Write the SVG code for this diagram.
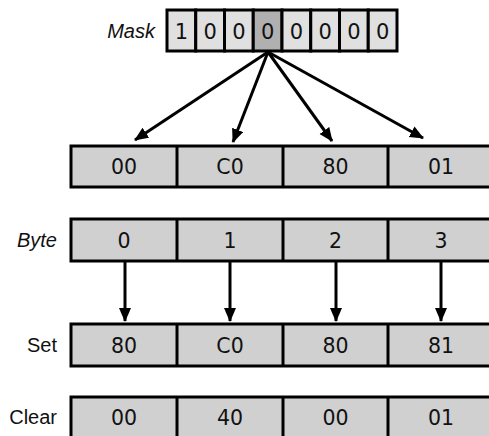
<svg xmlns="http://www.w3.org/2000/svg" width="489" height="436" viewBox="0 0 489 436">
  <style>
    .cell { fill: #d0d0d0; stroke: #000; stroke-width: 3; }
    .mcell { fill: #e0e0e0; stroke: #000; stroke-width: 3; }
    .mcell.sel { fill: #b0b0b0; }
    .div { stroke: #000; stroke-width: 3; }
    .val { font-family: "DejaVu Sans", "Verdana", sans-serif; font-size: 20.5px; text-anchor: middle; fill: #111; }
    .bit { font-family: "DejaVu Sans", "Verdana", sans-serif; font-size: 21px; text-anchor: middle; fill: #111; }
    .lbl { font-family: "Liberation Sans", Arial, sans-serif; font-size: 20px; text-anchor: end; fill: #111; }
    .it { font-style: italic; }
    .arrow { stroke: #000; stroke-width: 3; fill: none; marker-end: url(#head); }
  </style>
  <defs>
    <marker id="head" markerUnits="userSpaceOnUse" markerWidth="16" markerHeight="14" refX="13" refY="6" orient="auto">
      <path d="M0,0 L14,6 L0,12 Z" fill="#000"/>
    </marker>
  </defs>

  <!-- mask byte: eight bit cells -->
  <g id="mask">
    <text class="lbl it" x="155" y="38">Mask</text>
    <rect class="mcell" x="167" y="10" width="28.75" height="41"/>
    <rect class="mcell" x="195.75" y="10" width="28.75" height="41"/>
    <rect class="mcell" x="224.5" y="10" width="28.75" height="41"/>
    <rect class="mcell sel" x="253.25" y="10" width="28.75" height="41"/>
    <rect class="mcell" x="282" y="10" width="28.75" height="41"/>
    <rect class="mcell" x="310.75" y="10" width="28.75" height="41"/>
    <rect class="mcell" x="339.5" y="10" width="28.75" height="41"/>
    <rect class="mcell" x="368.25" y="10" width="28.75" height="41"/>
    <text class="bit" x="181.4" y="38.5">1</text>
    <text class="bit" x="210.1" y="38.5">0</text>
    <text class="bit" x="238.9" y="38.5">0</text>
    <text class="bit" x="267.6" y="38.5">0</text>
    <text class="bit" x="296.4" y="38.5">0</text>
    <text class="bit" x="325.1" y="38.5">0</text>
    <text class="bit" x="353.9" y="38.5">0</text>
    <text class="bit" x="382.6" y="38.5">0</text>
  </g>

  <!-- lookup values -->
  <g id="values">
    <rect class="cell" x="71" y="146" width="440" height="41"/>
    <line class="div" x1="177" y1="146" x2="177" y2="187"/>
    <line class="div" x1="283" y1="146" x2="283" y2="187"/>
    <line class="div" x1="388" y1="146" x2="388" y2="187"/>
    <text class="val" x="124" y="174">00</text>
    <text class="val" x="230" y="174">C0</text>
    <text class="val" x="335.5" y="174">80</text>
    <text class="val" x="441" y="174">01</text>
  </g>

  <!-- byte row -->
  <g id="byte">
    <text class="lbl it" x="57" y="247">Byte</text>
    <rect class="cell" x="71" y="219" width="440" height="42"/>
    <line class="div" x1="177" y1="219" x2="177" y2="261"/>
    <line class="div" x1="283" y1="219" x2="283" y2="261"/>
    <line class="div" x1="388" y1="219" x2="388" y2="261"/>
    <text class="val" x="124" y="247.5">0</text>
    <text class="val" x="230" y="247.5">1</text>
    <text class="val" x="335.5" y="247.5">2</text>
    <text class="val" x="441" y="247.5">3</text>
  </g>

  <!-- set row -->
  <g id="set">
    <text class="lbl" x="57" y="352">Set</text>
    <rect class="cell" x="71" y="324" width="440" height="42"/>
    <line class="div" x1="177" y1="324" x2="177" y2="366"/>
    <line class="div" x1="283" y1="324" x2="283" y2="366"/>
    <line class="div" x1="388" y1="324" x2="388" y2="366"/>
    <text class="val" x="124" y="352.5">80</text>
    <text class="val" x="230" y="352.5">C0</text>
    <text class="val" x="335.5" y="352.5">80</text>
    <text class="val" x="441" y="352.5">81</text>
  </g>

  <!-- clear row -->
  <g id="clear">
    <text class="lbl" x="57" y="424">Clear</text>
    <rect class="cell" x="71" y="397" width="440" height="50"/>
    <line class="div" x1="177" y1="397" x2="177" y2="440"/>
    <line class="div" x1="283" y1="397" x2="283" y2="440"/>
    <line class="div" x1="388" y1="397" x2="388" y2="440"/>
    <text class="val" x="124" y="424.5">00</text>
    <text class="val" x="230" y="424.5">40</text>
    <text class="val" x="335.5" y="424.5">00</text>
    <text class="val" x="441" y="424.5">01</text>
  </g>

  <!-- connectors -->
  <g id="connectors">
    <line class="arrow" x1="268" y1="52" x2="135" y2="140"/>
    <line class="arrow" x1="268" y1="52" x2="233" y2="142"/>
    <line class="arrow" x1="268" y1="52" x2="332" y2="141"/>
    <line class="arrow" x1="268" y1="52" x2="423" y2="138"/>
    <line class="arrow" x1="125" y1="261" x2="125" y2="321"/>
    <line class="arrow" x1="230" y1="261" x2="230" y2="321"/>
    <line class="arrow" x1="336" y1="261" x2="336" y2="321"/>
    <line class="arrow" x1="441" y1="261" x2="441" y2="321"/>
  </g>
</svg>
